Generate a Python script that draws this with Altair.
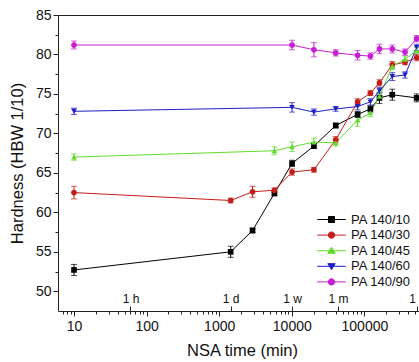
import altair as alt
import pandas as pd

# ---------------- data ----------------
series = ["PA 140/10", "PA 140/30", "PA 140/45", "PA 140/60", "PA 140/90"]
colors = ["#000000", "#c41e1a", "#5edc2a", "#1f1fc8", "#c81ed2"]
shapes = ["square", "circle", "triangle-up", "triangle-down", "circle"]

t_10 = [10, 1440, 2880, 5760, 10080, 20160, 40320, 80640, 120960, 161280, 241920, 524160]
h_10 = [52.7, 55.0, 57.7, 62.4, 66.2, 68.4, 71.0, 72.4, 73.1, 74.5, 74.9, 74.5]
e_10 = [0.7, 0.7, 0.3, 0.3, 0.4, 0.3, 0.3, 0.4, 0.4, 0.7, 0.7, 0.5]

t_30 = [10, 1440, 2880, 5760, 10080, 20160, 40320, 80640, 120960, 161280, 241920, 362880, 524160]
h_30 = [62.5, 61.5, 62.6, 62.8, 65.1, 65.4, 69.2, 74.0, 75.1, 76.4, 78.7, 79.0, 79.6]
e_30 = [0.8, 0.3, 0.7, 0.3, 0.4, 0.3, 0.4, 0.4, 0.3, 0.4, 0.4, 0.3, 0.4]

t_45 = [10, 5760, 10080, 20160, 40320, 80640, 120960, 161280, 241920, 362880, 524160]
h_45 = [67.0, 67.8, 68.3, 68.9, 68.8, 71.7, 72.6, 74.7, 78.5, 79.4, 80.5]
e_45 = [0.4, 0.5, 0.6, 0.5, 0.4, 0.8, 0.5, 0.5, 0.4, 0.4, 0.4]

t_60 = [10, 10080, 20160, 40320, 80640, 120960, 161280, 241920, 362880, 524160]
h_60 = [72.8, 73.3, 72.7, 73.1, 73.4, 74.0, 75.4, 77.2, 77.4, 80.9]
e_60 = [0.4, 0.6, 0.4, 0.3, 0.4, 0.4, 0.4, 0.5, 0.4, 0.4]

t_90 = [10, 10080, 20160, 40320, 80640, 120960, 161280, 241920, 362880, 524160]
h_90 = [81.2, 81.2, 80.6, 80.2, 79.9, 79.8, 80.7, 80.7, 80.3, 82.0]
e_90 = [0.5, 0.6, 0.9, 0.4, 0.6, 0.4, 0.6, 0.5, 0.4, 0.4]

x_major = [10, 100, 1000, 10000, 100000]
y_major = [50, 55, 60, 65, 70, 75, 80, 85]
y_minor = [52.5, 57.5, 62.5, 67.5, 72.5, 77.5, 82.5]
time_vals = [60, 1440, 10080, 43200, 525600]
time_labels = ["1 h", "1 d", "1 w", "1 m", "1 y"]

# ---------------- table ----------------
rows = []
for name, ts, hs, es in zip(series, [t_10, t_30, t_45, t_60, t_90],
                            [h_10, h_30, h_45, h_60, h_90],
                            [e_10, e_30, e_45, e_60, e_90]):
    for t, h, e in zip(ts, hs, es):
        rows.append({"series": name, "t": t, "h": h, "lo": h - e, "hi": h + e})
df = pd.DataFrame(rows)

x_minor = [k * 10 ** p for p in range(0, 6) for k in range(2, 10)
           if 6.1 < k * 10 ** p < 560000]

W, H = 361, 296
FONT = "Liberation Sans"
AX = "#222222"

xs = alt.Scale(type="log", domain=[6.02, 565000], nice=False)
ys = alt.Scale(domain=[47.5, 85], nice=False, zero=False)
# colour scale for the drawn marks (domain from the data, sorted like `series`)
cs = alt.Scale(range=colors)

# legend symbols: a short line with the marker in its middle
paths = {
    "square": "M-4.9,0H4.9M-1.03,-1.03H1.03V1.03H-1.03Z",
    "circle": "M-4.9,0H4.9M1.1,0A1.1,1.1,0,1,1,-1.1,0A1.1,1.1,0,1,1,1.1,0Z",
    "triangle-up": "M-4.9,0H4.9M0,-1.15L1.25,0.9H-1.25Z",
    "triangle-down": "M-4.9,0H4.9M0,1.15L1.25,-0.9H-1.25Z",
}
legend_paths = [paths[s] for s in shapes]

time_expr = ""
for v, lab in zip(time_vals, time_labels):
    time_expr += f"datum.value === {v} ? '{lab}' : "
time_expr += "''"

legend = alt.Legend(
    title=None, orient="none", legendX=267, legendY=198,
    symbolSize=34, symbolStrokeWidth=1, symbolOpacity=1,
    labelFontSize=13, labelFont=FONT,
    labelColor="#111111", labelOffset=13, rowPadding=1.6,
)

base = alt.Chart(df)

err = base.mark_rule(strokeWidth=1).encode(
    x=alt.X("t:Q", scale=xs, axis=alt.Axis(
        orient="bottom", values=x_minor, labels=False, tickSize=3,
        domain=False, grid=False, title=None, tickColor=AX)),
    y=alt.Y("lo:Q", scale=ys, axis=alt.Axis(
        orient="left", values=y_minor, labels=False, tickSize=3,
        domain=False, grid=False, title=None, tickColor=AX)),
    y2="hi:Q",
    color=alt.Color("series:N", scale=cs, legend=None),
)

cap_hi = base.mark_tick(orient="horizontal", size=6, thickness=1).encode(
    x=alt.X("t:Q", scale=xs, axis=alt.Axis(
        orient="top", labels=False, ticks=False, domain=True, grid=False,
        title=None, domainColor=AX)),
    y=alt.Y("hi:Q", scale=ys, axis=None),
    color=alt.Color("series:N", scale=cs, legend=None),
)

cap_lo = base.mark_tick(orient="horizontal", size=6, thickness=1).encode(
    x=alt.X("t:Q", scale=xs, axis=alt.Axis(
        orient="top", offset=-H, values=time_vals, labelExpr=time_expr,
        tickSize=5, labelPadding=1, domain=False, grid=False, title=None,
        labelFontSize=12, labelFontWeight="normal", labelFont=FONT,
        labelColor="#111111", tickColor=AX, labelFlush=False,
        labelOverlap=False)),
    y=alt.Y("lo:Q", scale=ys, axis=None),
    color=alt.Color("series:N", scale=cs, legend=None),
)

line = base.mark_line(strokeWidth=1).encode(
    x=alt.X("t:Q", scale=xs, axis=alt.Axis(
        orient="bottom", values=x_major, format="d", tickSize=5,
        labelPadding=3, grid=False, title="NSA time (min)",
        labelFontSize=14, labelFont=FONT, labelColor="#111111",
        titleFontSize=16.5, titleFont=FONT, titleFontWeight="normal",
        titleColor="#111111", titleY=39, titleX=184, titleBaseline="middle",
        domainColor=AX, tickColor=AX, labelFlush=False)),
    y=alt.Y("h:Q", scale=ys, axis=alt.Axis(
        orient="left", values=y_major, tickSize=5, labelPadding=2,
        grid=False, title="Hardness (HBW 1/10)",
        labelFontSize=14, labelFont=FONT, labelColor="#111111",
        titleFontSize=16.5, titleFont=FONT, titleFontWeight="normal",
        titleColor="#111111", titleX=-41, titleBaseline="middle",
        domainColor=AX, tickColor=AX, labelFlush=False)),
    color=alt.Color("series:N", scale=cs, legend=None),
    detail="series:N",
)

point_layers = []
for name, shp in zip(series, shapes):
    point_layers.append(
        base.transform_filter(alt.datum.series == name)
        .mark_point(filled=True, size=32, opacity=1, shape=shp)
        .encode(
            x=alt.X("t:Q", scale=xs, axis=None),
            y=alt.Y("h:Q", scale=ys, axis=None),
            color=alt.Color("series:N", scale=cs, legend=None),
        )
    )

# layer with no rows that only carries the legend
legend_layer = base.transform_filter("false").mark_point(
    filled=True, size=32, opacity=1
).encode(
    x=alt.X("t:Q", scale=xs, axis=None),
    y=alt.Y("h:Q", scale=ys, axis=None),
    fill=alt.Fill("series:N", scale=alt.Scale(domain=series, range=colors),
                  legend=legend),
    stroke=alt.Stroke("series:N", scale=alt.Scale(domain=series, range=colors),
                      legend=legend),
    shape=alt.Shape("series:N", scale=alt.Scale(domain=series, range=legend_paths),
                    legend=legend),
)

chart = alt.layer(err, cap_hi, cap_lo, line, *point_layers, legend_layer).resolve_axis(
    x="independent", y="independent"
).properties(
    width=W, height=H,
    autosize=alt.AutoSizeParams(type="none"),
    padding={"left": 58, "top": 15, "right": 0, "bottom": 51},
    background="white",
).configure_view(stroke=None)

chart.save("out.html", embed_options={"renderer": "svg", "actions": False})
